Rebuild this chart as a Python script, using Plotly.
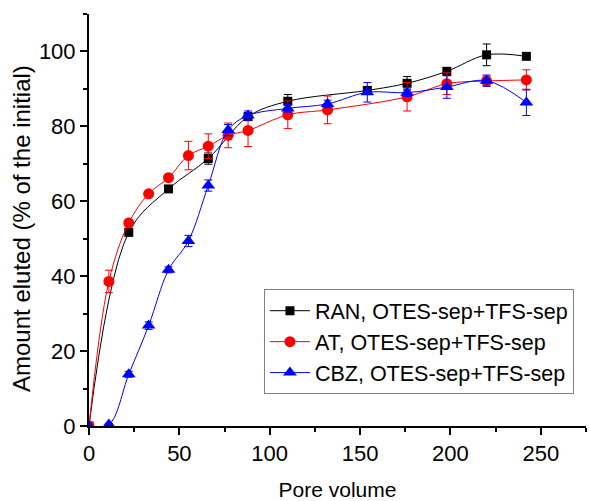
import plotly.graph_objects as go

# Pore volumes at which samples were collected
pv_ran = [0, 22, 44, 66, 88, 110, 154, 176, 198, 220, 242]
pv_at = [0, 11, 22, 33, 44, 55, 66, 77, 88, 110, 132, 176, 198, 220, 242]
pv_cbz = [0, 11, 22, 33, 44, 55, 66, 77, 88, 110, 132, 154, 176, 198, 220, 242]

# Amount eluted (% of the initial) and standard deviations
ran_eluted = [0, 51.7, 63.3, 71.4, 82.6, 86.7, 89.6, 91.5, 94.7, 99.1, 98.7]
ran_sd = [0, 0.5, 0.5, 1.5, 1.0, 1.8, 1.0, 1.8, 1.0, 2.9, 0.5]

at_eluted = [0, 38.6, 54.2, 62.0, 66.3, 72.2, 74.7, 77.6, 78.9, 83.1, 84.4, 87.9, 91.4, 92.1, 92.4]
at_sd = [0, 3.0, 0.5, 0.5, 0.5, 3.8, 3.3, 3.3, 4.3, 3.7, 3.7, 3.8, 2.9, 1.3, 2.7]

cbz_eluted = [0, 0.4, 13.8, 26.8, 41.7, 49.4, 64.2, 79.0, 82.9, 84.8, 86.0, 89.1, 89.0, 90.5, 92.2, 86.4]
cbz_sd = [0, 0.3, 0.8, 1.0, 0.8, 1.5, 1.5, 1.5, 1.2, 1.0, 1.0, 2.6, 1.0, 3.0, 1.5, 3.5]

series = [
    ("RAN, OTES-sep+TFS-sep", pv_ran, ran_eluted, ran_sd, "#000000", "square", 9),
    ("AT, OTES-sep+TFS-sep", pv_at, at_eluted, at_sd, "#ff0000", "circle", 11),
    ("CBZ, OTES-sep+TFS-sep", pv_cbz, cbz_eluted, cbz_sd, "#0000ff", "triangle-up", 12),
]

FONT = "Arial, Liberation Sans, sans-serif"

fig = go.Figure()
for name, x, y, sd, color, symbol, size in series:
    fig.add_trace(go.Scatter(
        x=x, y=y, name=name, mode="lines+markers",
        line=dict(color=color, width=1, shape="spline", smoothing=1.0),
        marker=dict(symbol=symbol, size=size, color=color, line=dict(width=0)),
        error_y=dict(type="data", array=sd, visible=True,
                     color=color, thickness=1, width=4),
    ))

axis_common = dict(
    showline=True, linecolor="black", linewidth=2,
    ticks="outside", ticklen=7, tickwidth=1.5, tickcolor="black",
    showgrid=False, zeroline=False, mirror=False, automargin=False,
    tickfont=dict(family=FONT, size=22, color="black"),
)

fig.update_xaxes(
    range=[0, 275], tick0=0, dtick=50,
    minor=dict(ticks="outside", ticklen=4, tickwidth=1.5, tickcolor="black", dtick=25, tick0=0),
    title=dict(text="Pore volume", font=dict(family=FONT, size=21, color="black"), standoff=20),
    **axis_common,
)
fig.update_yaxes(
    range=[0, 110], tick0=0, dtick=20,
    minor=dict(ticks="outside", ticklen=4, tickwidth=1.5, tickcolor="black", dtick=10, tick0=0),
    **axis_common,
)

# Y-axis title placed as a rotated label, slightly below the plot's mid-height
fig.add_annotation(
    text="Amount eluted (% of the initial)", textangle=-90,
    xref="paper", yref="paper", x=(21 - 89) / 497, y=(426 - 229) / 412,
    xanchor="center", yanchor="middle", showarrow=False,
    font=dict(family=FONT, size=24, color="black"),
)

fig.update_layout(
    width=589, height=501,
    margin=dict(l=89, r=3, t=14, b=75),
    paper_bgcolor="white", plot_bgcolor="white",
    showlegend=True,
    legend=dict(
        x=0.352, y=0.332, xanchor="left", yanchor="top",
        bgcolor="white", bordercolor="#808080", borderwidth=1,
        font=dict(family=FONT, size=21.5, color="black"),
        tracegroupgap=0, itemwidth=40,
    ),
)

fig.write_html("out.html")
